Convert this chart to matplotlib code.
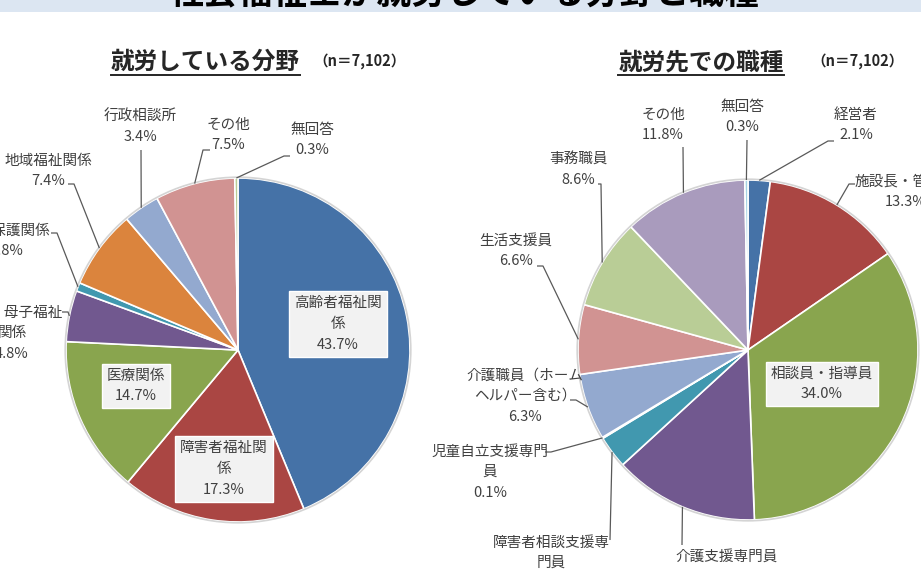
import numpy as np
import matplotlib
matplotlib.use("Agg")
import matplotlib.pyplot as plt
from matplotlib.patches import Rectangle, Circle

plt.rcParams['font.family'] = ['Noto Sans CJK JP', 'DejaVu Sans']

# データ
title = "社会福祉士が就労している分野と職種"
n_label = "（n＝7,102）"

field_title = "就労している分野"
field_names = ["高齢者福祉関係", "障害者福祉関係", "医療関係", "児童・母子福祉関係",
               "生活保護関係", "地域福祉関係", "行政相談所", "その他", "無回答"]
field_values = [43.7, 17.3, 14.7, 4.8, 0.8, 7.4, 3.4, 7.5, 0.3]

job_title = "就労先での職種"
job_names = ["経営者", "施設長・管理者", "相談員・指導員", "介護支援専門員",
             "障害者相談支援専門員", "児童自立支援専門員", "介護職員（ホームヘルパー含む）",
             "生活支援員", "事務職員", "その他", "無回答"]
job_values = [2.1, 13.3, 34.0, 13.8, 3.1, 0.1, 6.3, 6.6, 8.6, 11.8, 0.3]

field_colors = ["#4572A7", "#AA4643", "#89A54E", "#71588F", "#4198AF",
                "#DB843D", "#93A9CF", "#D19392", "#B9CD96"]
job_colors = ["#4572A7", "#AA4643", "#89A54E", "#71588F", "#4198AF", "#DB843D",
              "#93A9CF", "#D19392", "#B9CD96", "#A99BBD", "#A5D3E3"]

TXT = "#404040"
LINE = "#595959"

# ラベル配置 (px): name -> (x, y, 折返し文字数, 引出線(始点x, 始点y, 折れ長さ)) / 内側は None
field_layout = {
    "高齢者福祉関係": (338, 324, 6, None),
    "障害者福祉関係": (224, 469, 6, None),
    "医療関係": (136, 386, 8, None),
    "児童・母子福祉関係": (12, 333, 7, (62, 312, 6)),
    "生活保護関係": (6, 241, 8, (51, 233, 6)),
    "地域福祉関係": (48, 171, 8, (68, 184, 6)),
    "行政相談所": (140, 127, 8, (141, 150, 0)),
    "その他": (228, 135, 8, (210, 150, -7)),
    "無回答": (312, 140, 8, (290, 156, -6)),
}
job_layout = {
    "経営者": (856, 125, 8, (834, 141, -6)),
    "施設長・管理者": (906, 192, 8, (855, 184, -6)),
    "相談員・指導員": (822, 384, 8, None),
    "介護支援専門員": (727, 567, 8, (682, 545, 0)),
    "障害者相談支援専門員": (551, 563, 8, (610, 540, 0)),
    "児童自立支援専門員": (490, 472, 8, (545, 452, 6)),
    "介護職員（ホームヘルパー含む）": (525, 396, 8, (570, 400, 6)),
    "生活支援員": (516, 251, 8, (537, 266, 6)),
    "事務職員": (578, 170, 8, (598, 184, 3)),
    "その他": (663, 125, 8, (683, 147, 0)),
    "無回答": (742, 117, 8, (747, 140, 0)),
}


def wrap(s, k):
    return "\n".join(s[i:i + k] for i in range(0, len(s), k))


fig = plt.figure(figsize=(9.21, 5.69), dpi=100)
ax = fig.add_axes([0, 0, 1, 1])


def draw_pie(values, names, colors, layout, cx, cy, r):
    ax.pie(values, colors=colors, center=(cx, cy), radius=r, startangle=-90,
           counterclock=True, frame=True,
           wedgeprops=dict(edgecolor="white", linewidth=1.2))
    ax.add_patch(Circle((cx, cy), r + 0.8, fill=False, edgecolor="#D4D4D4", lw=1.2))
    cum = np.cumsum(values) - np.array(values) / 2
    for name, v, mid in zip(names, values, cum):
        x, y, k, lead = layout[name]
        s = wrap(name, k) + "\n" + f"{v:.1f}%"
        if lead is None:
            ax.text(x, y, s, ha="center", va="center", fontsize=10.5, color=TXT,
                    linespacing=1.6,
                    bbox=dict(boxstyle="square,pad=0.35", fc="#F2F2F2", ec="white", lw=1))
            continue
        ax.text(x, y, s, ha="center", va="center", fontsize=10.5, color=TXT,
                linespacing=1.6)
        phi = np.deg2rad(360 * mid / sum(values))
        ex, ey = cx + r * np.sin(phi), cy - r * np.cos(phi)
        sx, sy, hook = lead
        ax.plot([sx, sx + hook, ex], [sy, sy, ey], color=LINE, lw=0.9,
                solid_capstyle="butt")


draw_pie(field_values, field_names, field_colors, field_layout, 238, 350, 172)
draw_pie(job_values, job_names, job_colors, job_layout, 748, 350, 170)

ax.set_xlim(0, 921)
ax.set_ylim(569, 0)
ax.axis("off")

# タイトル帯 (上端で切れている)
ax.add_patch(Rectangle((0, 0), 921, 12, facecolor="#DCE6F2", edgecolor="none", zorder=0))
ax.text(464, -7, title, ha="center", va="center", fontsize=25, fontweight="bold",
        color="black")

subs = []
for t, x in [(field_title, 205), (job_title, 701)]:
    subs.append(ax.text(x, 62, t, ha="center", va="center", fontsize=17,
                        fontweight="bold", color="#262626"))
ax.text(360, 61, n_label, ha="center", va="center", fontsize=10.5, fontweight="bold",
        color="#262626")
ax.text(858, 61, n_label, ha="center", va="center", fontsize=10.5, fontweight="bold",
        color="#262626")

# 下線
fig.canvas.draw()
inv = ax.transData.inverted()
for t in subs:
    bb = t.get_window_extent()
    (x0, y0), (x1, y1) = inv.transform([[bb.x0, bb.y0], [bb.x1, bb.y1]])
    ax.plot([x0, x1], [y0 + 1, y0 + 1], color="#262626", lw=1.4)

fig.savefig("out.png", dpi=100)
